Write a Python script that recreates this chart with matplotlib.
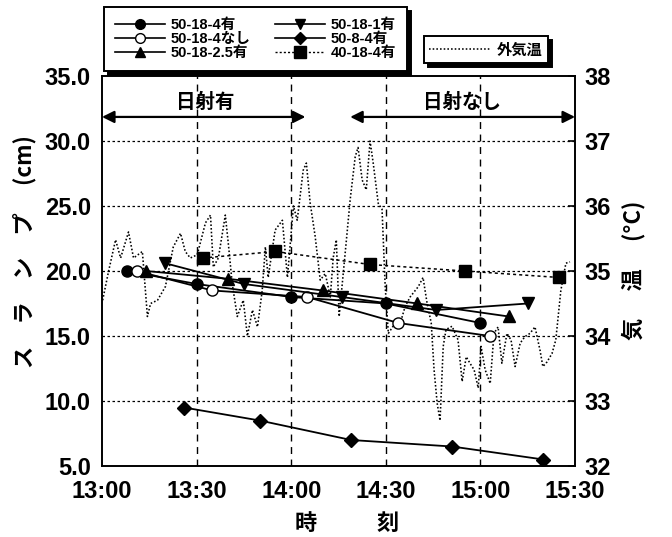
"""Slump over time with outside air temperature (twin axis)."""

import matplotlib
matplotlib.use("Agg")
import matplotlib.pyplot as plt
from matplotlib.lines import Line2D

JP = ["Noto Sans CJK JP", "DejaVu Sans"]
NUM = ["Liberation Sans Narrow", "Liberation Sans", "Noto Sans CJK JP"]
LEG = ["Liberation Sans", "Noto Sans CJK JP"]

# ---- data: time as "HH:MM", slump in cm --------------------------------
t_50_18_4_yes = ["13:08", "13:30", "14:00", "14:30", "15:00"]
s_50_18_4_yes = [20.0, 19.0, 18.0, 17.5, 16.0]

t_50_18_4_no = ["13:11", "13:35", "14:05", "14:34", "15:03"]
s_50_18_4_no = [20.0, 18.5, 18.0, 16.0, 15.0]

t_50_18_25_yes = ["13:14", "13:40", "14:10", "14:40", "15:09"]
s_50_18_25_yes = [20.0, 19.4, 18.5, 17.5, 16.5]

t_50_18_1_yes = ["13:20", "13:45", "14:16", "14:46", "15:15"]
s_50_18_1_yes = [20.6, 19.0, 18.0, 17.0, 17.5]

t_50_8_4_yes = ["13:26", "13:50", "14:19", "14:51", "15:20"]
s_50_8_4_yes = [9.5, 8.5, 7.0, 6.5, 5.5]

t_40_18_4_yes = ["13:32", "13:55", "14:25", "14:55", "15:25"]
s_40_18_4_yes = [21.0, 21.5, 20.5, 20.0, 19.5]

# outside air temperature: minutes after 13:00, deg C
temp_min = [0.2, 2.1, 4.3, 5.9, 8.4, 10.0, 12.8, 14.4, 15.4, 17.6, 20.1, 22.6,
            24.9, 26.4, 28.0, 30.2, 32.8, 34.4, 35.3, 36.9, 39.1, 40.1, 41.3,
            42.9, 44.8, 46.1, 47.7, 49.3, 50.8, 51.8, 52.7, 54.9, 57.2, 58.8,
            60.7, 61.9, 63.8, 64.8, 66.0, 67.6, 69.2, 70.8, 72.4, 73.3, 74.3,
            75.2, 77.1, 78.7, 80.3, 81.2, 82.5, 83.8, 85.0, 86.0, 87.6, 88.8,
            89.8, 90.8, 92.3, 94.6, 96.1, 97.7, 100.3, 101.8, 103.1, 104.4,
            105.3, 106.3, 107.2, 108.2, 109.1, 111.0, 112.9, 114.2, 115.5,
            116.7, 118.0, 119.3, 120.2, 121.5, 123.1, 124.3, 125.6, 126.8,
            128.4, 129.7, 131.0, 132.6, 134.1, 135.7, 137.3, 138.9, 139.8,
            141.1, 142.7, 143.9, 145.5, 147.1, 148.4]
temp_c = [34.55, 35.0, 35.48, 35.2, 35.6, 35.2, 35.3, 34.3, 34.5, 34.55, 34.76,
          35.37, 35.58, 35.3, 35.2, 35.25, 35.74, 35.86, 35.06, 35.2, 35.86,
          35.4, 34.8, 34.3, 34.55, 34.0, 34.4, 34.14, 34.7, 35.37, 34.9, 35.63,
          35.78, 34.9, 36.0, 35.78, 36.55, 36.66, 36.05, 35.53, 34.86, 34.96,
          34.6, 35.2, 35.48, 34.3, 35.27, 36.1, 36.76, 36.9, 36.4, 36.25, 37.0,
          36.66, 36.04, 35.95, 34.76, 34.04, 34.15, 34.2, 34.45, 34.6, 34.76,
          34.9, 34.5, 34.2, 33.48, 32.96, 32.7, 33.84, 34.1, 34.15, 33.94,
          33.3, 33.68, 33.58, 33.48, 33.2, 33.84, 33.48, 33.27, 34.04, 34.14,
          33.58, 34.04, 33.94, 33.53, 33.89, 33.99, 34.04, 34.14, 33.78, 33.53,
          33.6, 33.73, 33.94, 34.7, 35.12, 35.14]

x_ticks = ["13:00", "13:30", "14:00", "14:30", "15:00", "15:30"]
y_left_ticks = [5.0, 10.0, 15.0, 20.0, 25.0, 30.0, 35.0]
y_right_ticks = [32, 33, 34, 35, 36, 37, 38]

TEMP_LS = (0, (1.0, 1.3))


def _mins(hhmm):
    h, m = hhmm.split(":")
    return (int(h) - 13) * 60 + int(m)


def _m(times):
    return [_mins(t) for t in times]


fig = plt.figure(figsize=(6.72, 5.37), dpi=100)
ax = fig.add_axes([0.1518, 0.1322, 0.7039, 0.7263])
ax2 = ax.twinx()

ax.set_xlim(0, 150)
ax.set_ylim(5, 35)
ax2.set_ylim(32, 38)

# grid: dotted horizontals, dashed verticals
for v in y_left_ticks[1:-1]:
    ax.axhline(v, color="black", lw=0.9, ls=(0, (2, 2)), zorder=1)
for t in x_ticks[1:-1]:
    ax.axvline(_mins(t), color="black", lw=1.0, ls=(0, (5, 4)), zorder=1)

ax2.plot(temp_min, temp_c, color="black", lw=1.15, ls=TEMP_LS, zorder=2)
ax.set_zorder(ax2.get_zorder() + 1)
ax.patch.set_visible(False)

kw = dict(color="black", lw=1.3, ms=8, mec="black", zorder=4)
ax.plot(_m(t_50_18_4_yes), s_50_18_4_yes, marker="o", mfc="black", **kw)
ax.plot(_m(t_50_18_4_no), s_50_18_4_no, marker="o", mfc="white", **kw)
ax.plot(_m(t_50_18_25_yes), s_50_18_25_yes, marker="^", mfc="black", **kw)
ax.plot(_m(t_50_18_1_yes), s_50_18_1_yes, marker="v", mfc="black", **kw)
ax.plot(_m(t_50_8_4_yes), s_50_8_4_yes, marker="D", mfc="black",
        color="black", lw=1.3, ms=7, zorder=4)
ax.plot(_m(t_40_18_4_yes), s_40_18_4_yes, marker="s", mfc="black",
        color="black", lw=1.1, ls=(0, (2, 2)), ms=9, zorder=4)

# solar radiation periods
arr = dict(arrowstyle="<|-|>", color="black", lw=1.6, mutation_scale=18,
           shrinkA=0, shrinkB=0)
ax.annotate("", xy=(0, 31.85), xytext=(64.5, 31.85), arrowprops=arr)
ax.annotate("", xy=(78.7, 31.85), xytext=(150, 31.85), arrowprops=arr)
ax.text(32.8, 33.0, "日射有", ha="center", va="center", fontsize=14,
        fontweight="bold", family=JP)
ax.text(114.2, 33.0, "日射なし", ha="center", va="center", fontsize=14,
        fontweight="bold", family=JP)

ax.set_xticks([_mins(t) for t in x_ticks])
ax.set_xticklabels(x_ticks)
ax.set_yticks(y_left_ticks)
ax.set_yticklabels([f"{v:.1f}" for v in y_left_ticks])
ax2.set_yticks(y_right_ticks)
ax2.set_yticklabels([str(v) for v in y_right_ticks])

for a in (ax, ax2):
    for lab in a.get_xticklabels() + a.get_yticklabels():
        lab.set_family(NUM)
        lab.set_fontweight("bold")
        lab.set_fontsize(17)
    for sp in a.spines.values():
        sp.set_linewidth(1.2)
ax.tick_params(axis="both", direction="in", length=0, pad=8)
ax.tick_params(axis="x", pad=10)
ax2.tick_params(axis="y", direction="in", length=5, width=1.2, pad=7)

fig.text(25 / 672, 1 - 252 / 537, "ス　ラ　ン　プ　 (cm)", rotation=90,
         ha="center", va="center", fontsize=16, fontweight="bold", family=JP)
fig.text(634 / 672, 1 - 270 / 537, "気　 温　 (°C)", rotation=90,
         ha="center", va="center", fontsize=16, fontweight="bold", family=JP)
fig.text(306 / 672, 1 - 523 / 537, "時", ha="center", va="center",
         fontsize=16, fontweight="bold", family=JP)
fig.text(388 / 672, 1 - 523 / 537, "刻", ha="center", va="center",
         fontsize=16, fontweight="bold", family=JP)

# legends with the offset black shadow
handles = [
    Line2D([], [], color="black", lw=1.2, marker="o", mfc="black", ms=7),
    Line2D([], [], color="black", lw=1.2, marker="o", mfc="white", ms=7),
    Line2D([], [], color="black", lw=1.2, marker="^", mfc="black", ms=7),
    Line2D([], [], color="black", lw=1.2, marker="v", mfc="black", ms=7),
    Line2D([], [], color="black", lw=1.2, marker="D", mfc="black", ms=6),
    Line2D([], [], color="black", lw=1.0, ls=(0, (1.5, 1.5)), marker="s",
           mfc="black", ms=8),
]
labels = ["50-18-4有", "50-18-4なし", "50-18-2.5有",
          "50-18-1有", "50-8-4有", "40-18-4有"]
shadow = dict(ox=3, oy=-3, facecolor="black", edgecolor="black", alpha=1)
leg1 = fig.legend(handles, labels, ncol=2, loc="upper left",
                  bbox_to_anchor=(104 / 672, 1 - 7 / 537),
                  prop=dict(family=LEG, weight="bold", size=10.5),
                  handlelength=3.4, handletextpad=0.4, columnspacing=1.7,
                  labelspacing=0.0, borderpad=0.75, borderaxespad=0,
                  fancybox=False, shadow=shadow, framealpha=1,
                  edgecolor="black")
leg1.get_frame().set_linewidth(1.4)

leg2 = fig.legend([Line2D([], [], color="black", lw=1.15, ls=TEMP_LS)],
                  ["外気温"], loc="upper left",
                  bbox_to_anchor=(424 / 672, 1 - 36 / 537),
                  prop=dict(family=JP, weight="bold", size=11),
                  handlelength=4.0, handletextpad=0.4, borderpad=0.35,
                  borderaxespad=0, fancybox=False, shadow=shadow,
                  framealpha=1, edgecolor="black")
leg2.get_frame().set_linewidth(1.4)

fig.savefig("out.png", dpi=100)
plt.close(fig)
